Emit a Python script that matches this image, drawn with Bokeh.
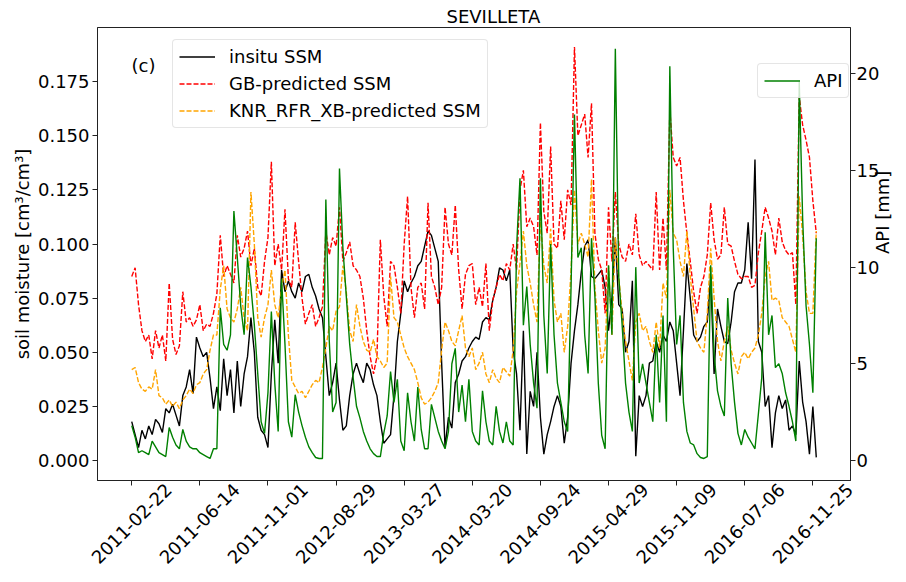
import math
from bokeh.plotting import figure
from bokeh.models import (Range1d, LinearAxis, FixedTicker, Legend, LegendItem,
                          Label, ColumnDataSource)
from bokeh.embed import file_html
from bokeh.resources import INLINE

# ---------------- data ----------------
tick_dates = ["2011-02-22", "2011-06-14", "2011-11-01", "2012-08-29", "2013-03-27",
              "2014-03-20", "2014-09-24", "2015-04-29", "2015-11-09", "2016-07-06",
              "2016-11-25"]
tick_index = [0, 20, 40, 60, 80, 100, 120, 140, 160, 180, 200]

insitu_ssm = [
    0.018, 0.012, 0.006, 0.014, 0.010, 0.016, 0.012, 0.019, 0.017, 0.013,
    0.024, 0.022, 0.026, 0.021, 0.016, 0.030, 0.034, 0.042, 0.031, 0.057,
    0.052, 0.048, 0.050, 0.038, 0.024, 0.034, 0.023, 0.047, 0.030, 0.042,
    0.022, 0.046, 0.025, 0.040, 0.048, 0.066, 0.050, 0.020, 0.014, 0.012,
    0.006, 0.040, 0.065, 0.045, 0.088, 0.078, 0.083, 0.078, 0.075, 0.082,
    0.078, 0.085, 0.086, 0.080, 0.076, 0.070, 0.066, 0.048, 0.030, 0.036,
    0.045, 0.028, 0.014, 0.016, 0.030, 0.040, 0.045, 0.040, 0.036, 0.045,
    0.042, 0.035, 0.030, 0.018, 0.008, 0.010, 0.012, 0.030, 0.055, 0.068,
    0.083, 0.078, 0.082, 0.085, 0.090, 0.092, 0.099, 0.106, 0.104, 0.098,
    0.092, 0.045, 0.006, 0.020, 0.015, 0.036, 0.040, 0.046, 0.048, 0.052,
    0.055, 0.057, 0.056, 0.064, 0.066, 0.065, 0.074, 0.080, 0.089, 0.088,
    0.083, 0.088, 0.051, 0.040, 0.014, 0.060, 0.003, 0.032, 0.025, 0.050,
    0.020, 0.003, 0.012, 0.018, 0.025, 0.030, 0.025, 0.008, 0.020, 0.045,
    0.060, 0.072, 0.087, 0.099, 0.102, 0.085, 0.084, 0.086, 0.088, 0.080,
    0.060, 0.075, 0.103, 0.072, 0.070, 0.050, 0.055, 0.083, 0.002, 0.030,
    0.025, 0.030, 0.045, 0.046, 0.055, 0.050, 0.058, 0.055, 0.064, 0.060,
    0.045, 0.030, 0.060, 0.091, 0.075, 0.058, 0.055, 0.057, 0.062, 0.064,
    0.085, 0.040, 0.070, 0.062, 0.055, 0.054, 0.064, 0.078, 0.082, 0.082,
    0.088, 0.110, 0.084, 0.139, 0.055, 0.050, 0.025, 0.030, 0.006, 0.022,
    0.030, 0.024, 0.028, 0.014, 0.016, 0.012, 0.046, 0.027, 0.018, 0.003,
    0.025, 0.0015]

gb_ssm = [
    0.085, 0.089, 0.072, 0.060, 0.055, 0.058, 0.047, 0.060, 0.052, 0.058,
    0.046, 0.082, 0.056, 0.049, 0.053, 0.078, 0.064, 0.066, 0.062, 0.065,
    0.072, 0.060, 0.063, 0.062, 0.068, 0.077, 0.104, 0.085, 0.090, 0.086,
    0.082, 0.104, 0.094, 0.098, 0.106, 0.090, 0.098, 0.080, 0.076, 0.092,
    0.103, 0.138, 0.090, 0.100, 0.088, 0.116, 0.084, 0.080, 0.110, 0.092,
    0.075, 0.063, 0.068, 0.072, 0.062, 0.066, 0.071, 0.106, 0.095, 0.103,
    0.099, 0.117, 0.092, 0.096, 0.101, 0.090, 0.088, 0.085, 0.075, 0.060,
    0.048, 0.040, 0.048, 0.102, 0.076, 0.062, 0.092, 0.090, 0.080, 0.068,
    0.100, 0.122, 0.080, 0.066, 0.080, 0.082, 0.070, 0.119, 0.085, 0.080,
    0.072, 0.080, 0.117, 0.100, 0.095, 0.118, 0.088, 0.070, 0.086, 0.090,
    0.091, 0.072, 0.080, 0.071, 0.091, 0.060, 0.074, 0.080, 0.086, 0.083,
    0.091, 0.088, 0.100, 0.088, 0.125, 0.134, 0.108, 0.112, 0.108, 0.095,
    0.156, 0.115, 0.105, 0.145, 0.100, 0.098, 0.120, 0.102, 0.125, 0.118,
    0.191, 0.150, 0.155, 0.160, 0.140, 0.165, 0.105, 0.093, 0.088, 0.068,
    0.117, 0.092, 0.124, 0.100, 0.094, 0.092, 0.100, 0.095, 0.114, 0.095,
    0.090, 0.092, 0.090, 0.088, 0.124, 0.088, 0.112, 0.088, 0.162, 0.140,
    0.136, 0.140, 0.120, 0.105, 0.092, 0.078, 0.068, 0.080, 0.085, 0.095,
    0.119, 0.102, 0.093, 0.095, 0.117, 0.100, 0.099, 0.092, 0.086, 0.084,
    0.085, 0.085, 0.080, 0.081, 0.096, 0.106, 0.117, 0.112, 0.106, 0.095,
    0.112, 0.101, 0.097, 0.095, 0.096, 0.072, 0.168, 0.155, 0.148, 0.140,
    0.120, 0.105]

knr_rfr_xb_ssm = [
    0.042, 0.043, 0.036, 0.033, 0.032, 0.034, 0.033, 0.042, 0.030, 0.029,
    0.026, 0.028, 0.025, 0.027, 0.024, 0.028, 0.030, 0.033, 0.031, 0.035,
    0.036, 0.040, 0.042, 0.051, 0.058, 0.058, 0.079, 0.090, 0.070, 0.066,
    0.064, 0.070, 0.080, 0.066, 0.060, 0.124, 0.100, 0.066, 0.057, 0.066,
    0.072, 0.088, 0.072, 0.066, 0.080, 0.088, 0.058, 0.037, 0.034, 0.031,
    0.032, 0.029, 0.032, 0.035, 0.037, 0.036, 0.043, 0.052, 0.062, 0.060,
    0.069, 0.071, 0.090, 0.078, 0.060, 0.055, 0.072, 0.062, 0.055, 0.051,
    0.050, 0.056, 0.048, 0.046, 0.043, 0.045, 0.085, 0.066, 0.064, 0.058,
    0.052, 0.048, 0.045, 0.042, 0.036, 0.029, 0.026, 0.027, 0.029, 0.032,
    0.036, 0.051, 0.064, 0.060, 0.055, 0.053, 0.060, 0.067, 0.052, 0.048,
    0.052, 0.042, 0.045, 0.050, 0.040, 0.036, 0.042, 0.038, 0.036, 0.043,
    0.041, 0.039, 0.051, 0.078, 0.091, 0.106, 0.090, 0.082, 0.072, 0.064,
    0.112, 0.090, 0.082, 0.107, 0.074, 0.064, 0.068, 0.050, 0.062, 0.088,
    0.125, 0.100, 0.105, 0.100, 0.094, 0.130, 0.080, 0.060, 0.045, 0.052,
    0.090, 0.058, 0.103, 0.085, 0.068, 0.055, 0.046, 0.037, 0.064, 0.068,
    0.060, 0.062, 0.055, 0.050, 0.064, 0.052, 0.082, 0.075, 0.125, 0.105,
    0.102, 0.092, 0.085, 0.106, 0.085, 0.070, 0.055, 0.052, 0.050, 0.068,
    0.098, 0.075, 0.055, 0.046, 0.055, 0.062, 0.051, 0.045, 0.040, 0.048,
    0.050, 0.047, 0.050, 0.052, 0.058, 0.068, 0.085, 0.092, 0.074, 0.075,
    0.074, 0.066, 0.064, 0.062, 0.056, 0.050, 0.122, 0.104, 0.078, 0.068,
    0.068, 0.106]

api_mm = [
    1.8, 1.2, 0.4, 0.5, 0.4, 0.3, 1.0, 0.7, 0.4, 0.3,
    0.2, 1.7, 1.2, 0.8, 0.6, 1.6, 1.0, 0.7, 0.6, 0.6,
    0.4, 0.3, 0.2, 0.1, 0.6, 0.6, 7.9, 6.0, 5.7, 6.5,
    12.9, 10.5, 8.0, 6.5, 10.5, 9.0, 7.0, 4.5, 2.0, 1.4,
    3.5, 7.7, 4.0, 1.5, 9.4, 6.0, 2.0, 1.2, 3.4, 2.5,
    1.8, 1.2, 0.7, 0.4, 0.15, 0.1, 0.1, 13.5, 6.2, 2.5,
    3.0, 15.1, 11.0, 8.5, 6.0, 4.3, 2.8, 2.2, 1.5, 1.0,
    0.6, 0.35, 0.2, 0.2, 1.4, 2.3, 4.6, 3.0, 4.2, 1.0,
    0.5, 3.5, 2.0, 1.0, 3.8, 1.6, 0.6, 0.6, 2.9, 2.2,
    1.5, 1.0, 0.6, 1.5, 5.0, 5.8, 2.5, 3.9, 2.0, 4.2,
    1.5, 1.0, 0.8, 3.6, 2.0, 1.0, 0.8, 2.8, 1.5, 0.9,
    2.0, 1.0, 0.8, 11.0, 14.6, 7.0, 9.0, 6.0, 4.0, 2.7,
    14.6, 7.5, 4.5, 11.2, 6.5, 4.0, 3.0, 2.0, 1.5, 9.0,
    17.9, 10.5, 11.0, 6.5, 4.5, 11.5, 8.5, 4.0, 1.3, 0.6,
    10.1, 6.5, 21.3, 9.5, 7.0, 4.0, 2.5, 1.5, 10.0, 4.0,
    5.0, 4.0, 3.0, 2.0, 6.5, 3.0, 7.5, 2.0, 20.4, 11.0,
    6.0, 7.5, 3.0, 1.5, 0.9, 0.8, 0.35, 0.15, 0.1, 0.2,
    10.1, 5.5, 3.6, 2.8, 2.3, 8.4, 5.0, 3.0, 1.4, 0.8,
    1.6, 1.2, 0.9, 0.6, 2.4, 4.3, 11.8, 6.5, 7.5, 4.8,
    5.0, 4.5, 3.5, 2.8, 2.0, 1.0, 19.6, 12.5, 8.0, 6.0,
    3.5, 11.5]

# ---------------- figure ----------------
sample = list(range(len(insitu_ssm)))
src = ColumnDataSource(dict(x=sample, insitu=insitu_ssm, gb=gb_ssm,
                            knr=knr_rfr_xb_ssm, api=api_mm))

FONT = "DejaVu Sans"
FS = "18px"
XFS = "18px"
AXC = "#222222"

X0, X1 = -10.05, 211.05
LAB_SHIFT = 10.8   # shifts rotated date labels so they sit centred under the ticks

p = figure(width=906, height=580, output_backend="svg", toolbar_location=None,
           x_range=Range1d(X0, X1), y_range=Range1d(-0.0092, 0.2),
           min_border_left=97, min_border_right=54, min_border_top=27,
           min_border_bottom=100, title="SEVILLETA")
p.extra_y_ranges = {"api": Range1d(-1.04, 22.4)}
p.extra_x_ranges = {"lab": Range1d(X0 - LAB_SHIFT, X1 - LAB_SHIFT)}

p.title.align = "left"
p.title.offset = 349
p.title.text_font = FONT
p.title.text_font_size = FS
p.title.text_font_style = "normal"
p.title.text_color = "black"
p.title.standoff = 2

p.xgrid.visible = False
p.ygrid.visible = False
p.outline_line_color = AXC
p.outline_line_width = 1

r_insitu = p.line("x", "insitu", source=src, line_color="black", line_width=1.4)
r_gb = p.line("x", "gb", source=src, line_color="#ff0000", line_width=1.4,
              line_dash="5 2")
r_knr = p.line("x", "knr", source=src, line_color="#ffa500", line_width=1.4,
               line_dash="5 2")
r_api = p.line("x", "api", source=src, line_color="#008000", line_width=1.4,
               y_range_name="api")

api_axis = LinearAxis(y_range_name="api", axis_label="API [mm]",
                      ticker=FixedTicker(ticks=[0, 5, 10, 15, 20]))
p.add_layout(api_axis, "right")

p.yaxis[0].ticker = FixedTicker(ticks=[0.0, 0.025, 0.05, 0.075, 0.1, 0.125, 0.15, 0.175])
p.yaxis[0].major_label_overrides = {0.0: "0.000", 0.025: "0.025", 0.05: "0.050",
                                    0.075: "0.075", 0.1: "0.100", 0.125: "0.125",
                                    0.15: "0.150", 0.175: "0.175"}
p.yaxis[0].axis_label = "soil moisture [cm³/cm³]"

# main x axis: tick marks only (its own labels are not drawn)
xax = p.xaxis[0]
xax.ticker = FixedTicker(ticks=tick_index)
xax.major_label_text_font_size = "1px"
xax.major_label_text_alpha = 0
xax.major_label_text_color = None
xax.major_label_standoff = 0
xax.major_tick_out = 5
xax.major_tick_in = 0
xax.minor_tick_line_color = None
xax.axis_line_color = AXC
xax.major_tick_line_color = AXC

# label-only axis carrying the rotated dates
lab_axis = LinearAxis(x_range_name="lab", ticker=FixedTicker(ticks=tick_index))
lab_axis.major_label_overrides = {t: d for t, d in zip(tick_index, tick_dates)}
lab_axis.major_label_orientation = math.pi / 4
lab_axis.major_label_text_font = FONT
lab_axis.major_label_text_font_size = XFS
lab_axis.major_label_text_color = "black"
lab_axis.major_label_standoff = 1
lab_axis.major_tick_out = 0
lab_axis.major_tick_in = 0
lab_axis.major_tick_line_color = None
lab_axis.minor_tick_line_color = None
lab_axis.axis_line_color = None
p.add_layout(lab_axis, "below")

for ax in [p.yaxis[0], api_axis]:
    ax.major_label_text_font = FONT
    ax.major_label_text_font_size = FS
    ax.major_label_text_color = "black"
    ax.axis_label_text_font = FONT
    ax.axis_label_text_font_size = FS
    ax.axis_label_text_font_style = "normal"
    ax.axis_label_text_color = "black"
    ax.minor_tick_line_color = None
    ax.major_tick_out = 5
    ax.major_tick_in = 0
    ax.major_label_standoff = 3
    ax.axis_line_color = AXC
    ax.major_tick_line_color = AXC
    ax.axis_label_standoff = 2

api_axis.major_label_standoff = 1
api_axis.axis_label_standoff = 0
api_axis.axis_label_text_line_height = 1.0
try:
    api_axis.axis_label_orientation = math.pi / 2
except Exception:
    pass

def style_legend(lg):
    lg.label_text_font = FONT
    lg.label_text_font_size = FS
    lg.label_text_color = "black"
    lg.glyph_width = 36
    lg.glyph_height = 21
    lg.label_height = 21
    lg.label_standoff = 14
    lg.spacing = 6
    lg.padding = 6
    lg.margin = 0
    lg.border_line_color = "#cccccc"
    lg.border_line_width = 1
    lg.background_fill_color = "white"
    lg.background_fill_alpha = 0.8
    try:
        lg.border_radius = 4
    except Exception:
        pass

leg1 = Legend(items=[LegendItem(label="insitu SSM", renderers=[r_insitu]),
                     LegendItem(label="GB-predicted SSM", renderers=[r_gb]),
                     LegendItem(label="KNR_RFR_XB-predicted SSM", renderers=[r_knr])],
              location=(75, 352))
style_legend(leg1)
leg2 = Legend(items=[LegendItem(label="API", renderers=[r_api])], location=(660, 382))
style_legend(leg2)
p.add_layout(leg1, "center")
p.add_layout(leg2, "center")

p.add_layout(Label(x=34, y=415, x_units="screen", y_units="screen", text="(c)",
                   text_font=FONT, text_font_size=FS, text_color="black",
                   text_baseline="middle"))

open("out.html", "w").write(file_html(p, INLINE))
